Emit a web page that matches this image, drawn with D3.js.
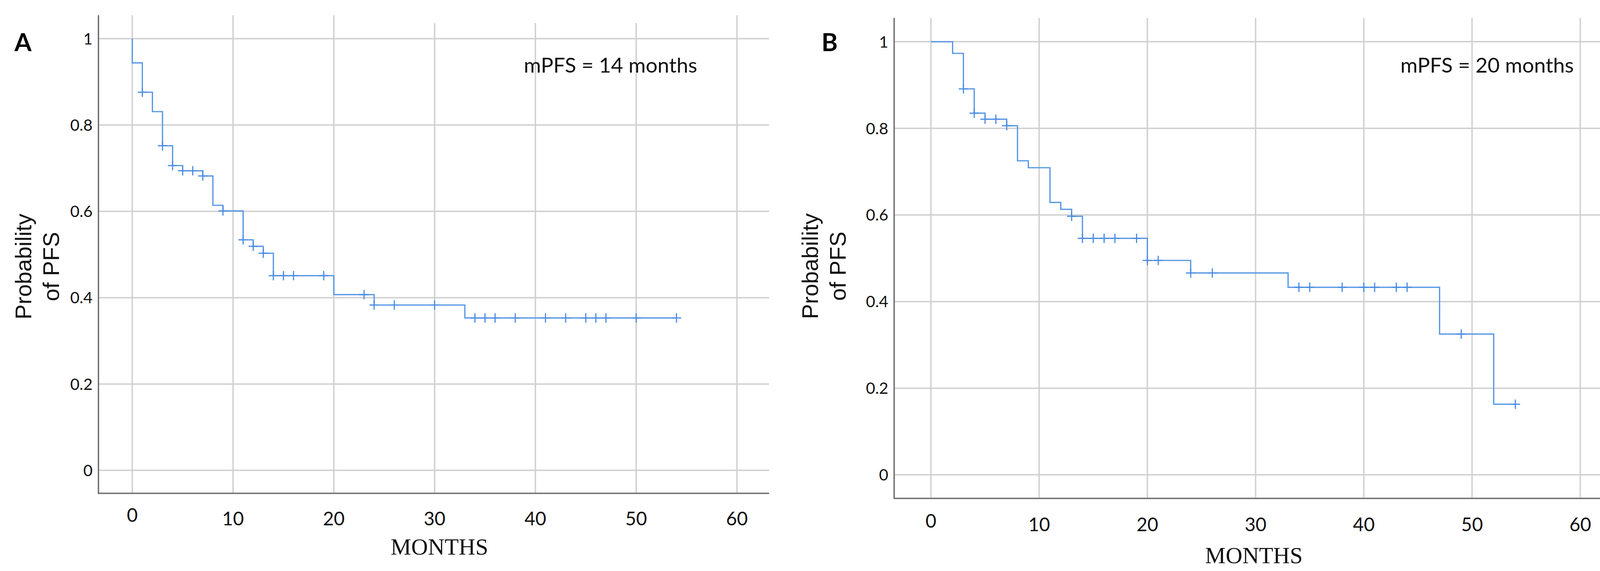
<!DOCTYPE html>
<html>
<head>
<meta charset="utf-8">
<script src="https://cdn.jsdelivr.net/npm/d3@7"></script>
<style>
  body { margin: 0; background: #fff; }
  svg { display: block; }
  .grade { stroke: #cfcfcf; stroke-width: 3.5; fill: none; }
  .eixo { stroke: #6e6e6e; stroke-width: 3.5; fill: none; }
  .curva { stroke: #5596e6; stroke-width: 3.2; fill: none; }
  .censura { stroke: #4a8ce2; stroke-width: 3; }
  .rotuloY { font-family: Lato, sans-serif; font-size: 41px; fill: #111; text-anchor: end; }
  .rotuloX { font-family: Lato, sans-serif; font-size: 48px; fill: #111; text-anchor: middle; }
  .tituloX { font-family: "Liberation Serif", serif; font-size: 60px; fill: #111; text-anchor: middle; }
  .tituloY { font-family: "Liberation Sans", Arial, sans-serif; font-size: 58px; fill: #111; text-anchor: middle; }
  .painel { font-family: Lato, sans-serif; font-weight: bold; font-size: 63px; fill: #000; }
  .mediana { font-family: Lato, sans-serif; font-size: 53px; fill: #111; }
</style>
</head>
<body>
<svg id="figura"></svg>
<script>
// eixos
var mesesTicks = [0, 10, 20, 30, 40, 50, 60];
var probTicks = [0, 0.2, 0.4, 0.6, 0.8, 1];
var probRotulos = ['0', '0.2', '0.4', '0.6', '0.8', '1'];

// painel A - tempos dos eventos (meses) e sobrevida apos cada evento
var eventosA = [0, 1, 2, 3, 4, 5, 7, 8, 9, 11, 12, 13, 14, 20, 24, 33];
var sobrevidaA = [0.944, 0.876, 0.831, 0.752, 0.706, 0.694, 0.682, 0.614, 0.601, 0.534, 0.519, 0.503, 0.451, 0.407, 0.383, 0.353];
var censurasA = [1, 3, 4, 5, 6, 7, 9, 11, 12, 13, 14, 15, 16, 19, 23, 24, 26, 30, 34, 35, 36, 38, 41, 43, 45, 46, 47, 50, 54];
var fimA = 54;
var medianaA = 14;

// painel B
var eventosB = [2, 3, 4, 5, 7, 8, 9, 11, 12, 13, 14, 20, 24, 33, 47, 52];
var sobrevidaB = [0.973, 0.891, 0.835, 0.821, 0.806, 0.725, 0.709, 0.629, 0.613, 0.597, 0.546, 0.495, 0.466, 0.433, 0.325, 0.163];
var censurasB = [3, 4, 5, 6, 7, 13, 14, 15, 16, 17, 19, 20, 21, 24, 26, 34, 35, 38, 40, 41, 43, 44, 49, 54];
var fimB = 54;
var medianaB = 20;

var svg = d3.select('#figura')
            .attr('width', 4165)
            .attr('height', 1463);

function sobrevidaEm(eventos, sobrevida, t) {
  var s = 1;
  eventos.forEach(function(e, i) { if (e <= t) s = sobrevida[i]; });
  return s;
}

function grafico(p) {
  var g = svg.append('g');

  var x = d3.scaleLinear().domain([0, 60]).range([p.x0, p.x60]);
  var y = d3.scaleLinear().domain([0, 1]).range([p.y0, p.y1]);

  // grade
  g.selectAll('.gradeH')
    .data(probTicks)
    .enter()
      .append('line')
      .attr('class', 'grade')
      .attr('x1', p.esquerda).attr('x2', p.direita)
      .attr('y1', d => y(d)).attr('y2', d => y(d));

  g.selectAll('.gradeV')
    .data(mesesTicks)
    .enter()
      .append('line')
      .attr('class', 'grade')
      .attr('x1', d => x(d)).attr('x2', d => x(d))
      .attr('y1', p.topo).attr('y2', p.base);

  if (p.mascara) {
    g.append('rect')
      .attr('x', p.mascara[0]).attr('y', p.topo - 2)
      .attr('width', p.mascara[1] - p.mascara[0]).attr('height', p.mascara[2] - p.topo + 2)
      .attr('fill', '#fff');
  }

  // eixos
  g.append('path')
    .attr('class', 'eixo')
    .attr('d', 'M' + p.esquerda + ',' + p.topo + 'V' + p.base + 'H' + p.direita);

  // curva de Kaplan-Meier
  var pontos = [[0, 1]];
  p.eventos.forEach(function(t, i) { pontos.push([t, p.sobrevida[i]]); });
  pontos.push([p.fim, p.sobrevida[p.sobrevida.length - 1]]);

  var linha = d3.line()
    .x(d => x(d[0]))
    .y(d => y(d[1]))
    .curve(d3.curveStepAfter);

  g.append('path')
    .datum(pontos)
    .attr('class', 'curva')
    .attr('d', linha);

  // marcas de censura
  var cruz = g.selectAll('.cruz')
    .data(p.censuras)
    .enter()
      .append('g')
      .attr('transform', d => 'translate(' + x(d) + ',' + y(sobrevidaEm(p.eventos, p.sobrevida, d)) + ')');
  cruz.append('line').attr('class', 'censura').attr('x1', -12).attr('x2', 12);
  cruz.append('line').attr('class', 'censura').attr('y1', -12).attr('y2', 12);

  // rotulos
  g.selectAll('.rotuloY')
    .data(probTicks)
    .enter()
      .append('text')
      .attr('class', 'rotuloY')
      .attr('x', p.esquerda - 15)
      .attr('y', d => y(d))
      .attr('dy', '0.36em')
      .text((d, i) => probRotulos[i]);

  g.selectAll('.rotuloX')
    .data(mesesTicks)
    .enter()
      .append('text')
      .attr('class', 'rotuloX')
      .attr('x', d => x(d))
      .attr('y', (d, i) => i === 0 ? p.baseRotuloX - 9 : p.baseRotuloX)
      .text(d => d);

  g.append('text')
    .attr('class', 'tituloX')
    .attr('x', p.centroTituloX)
    .attr('y', p.baseTituloX)
    .attr('textLength', 250)
    .attr('lengthAdjust', 'spacingAndGlyphs')
    .text('MONTHS');

  var ty = g.append('text')
    .attr('class', 'tituloY')
    .attr('transform', 'translate(' + p.tituloYx + ',' + p.tituloYy + ') rotate(-90)');
  ty.append('tspan').attr('x', 0).attr('y', 0).text('Probability');
  ty.append('tspan').attr('x', 0).attr('y', 71).text('of PFS');

  g.append('text')
    .attr('class', 'painel')
    .attr('x', p.letraX)
    .attr('y', 131)
    .text(p.letra);

  g.append('text')
    .attr('class', 'mediana')
    .attr('x', p.medianaX)
    .attr('y', 186)
    .attr('textLength', 444)
    .attr('lengthAdjust', 'spacingAndGlyphs')
    .text('mPFS = ' + p.mediana + ' months');
}

grafico({
  letra: 'A', letraX: 37,
  eventos: eventosA, sobrevida: sobrevidaA, censuras: censurasA, fim: fimA, mediana: medianaA,
  x0: 338.6, x60: 1886.6, y0: 1205.1, y1: 99.1,
  esquerda: 252, direita: 1969, topo: 39, base: 1264,
  mascara: [1000, 1800, 59],
  baseRotuloX: 1346, centroTituloX: 1125, baseTituloX: 1421,
  tituloYx: 80, tituloYy: 683,
  medianaX: 1341
});

grafico({
  letra: 'B', letraX: 2103,
  eventos: eventosB, sobrevida: sobrevidaB, censuras: censurasB, fim: fimB, mediana: medianaB,
  x0: 2383.2, x60: 4045.5, y0: 1216.6, y1: 106.8,
  esquerda: 2289, direita: 4135, topo: 46, base: 1277,
  baseRotuloX: 1361, centroTituloX: 3210, baseTituloX: 1443,
  tituloYx: 2094, tituloYy: 682,
  medianaX: 3585
});
</script>
</body>
</html>
